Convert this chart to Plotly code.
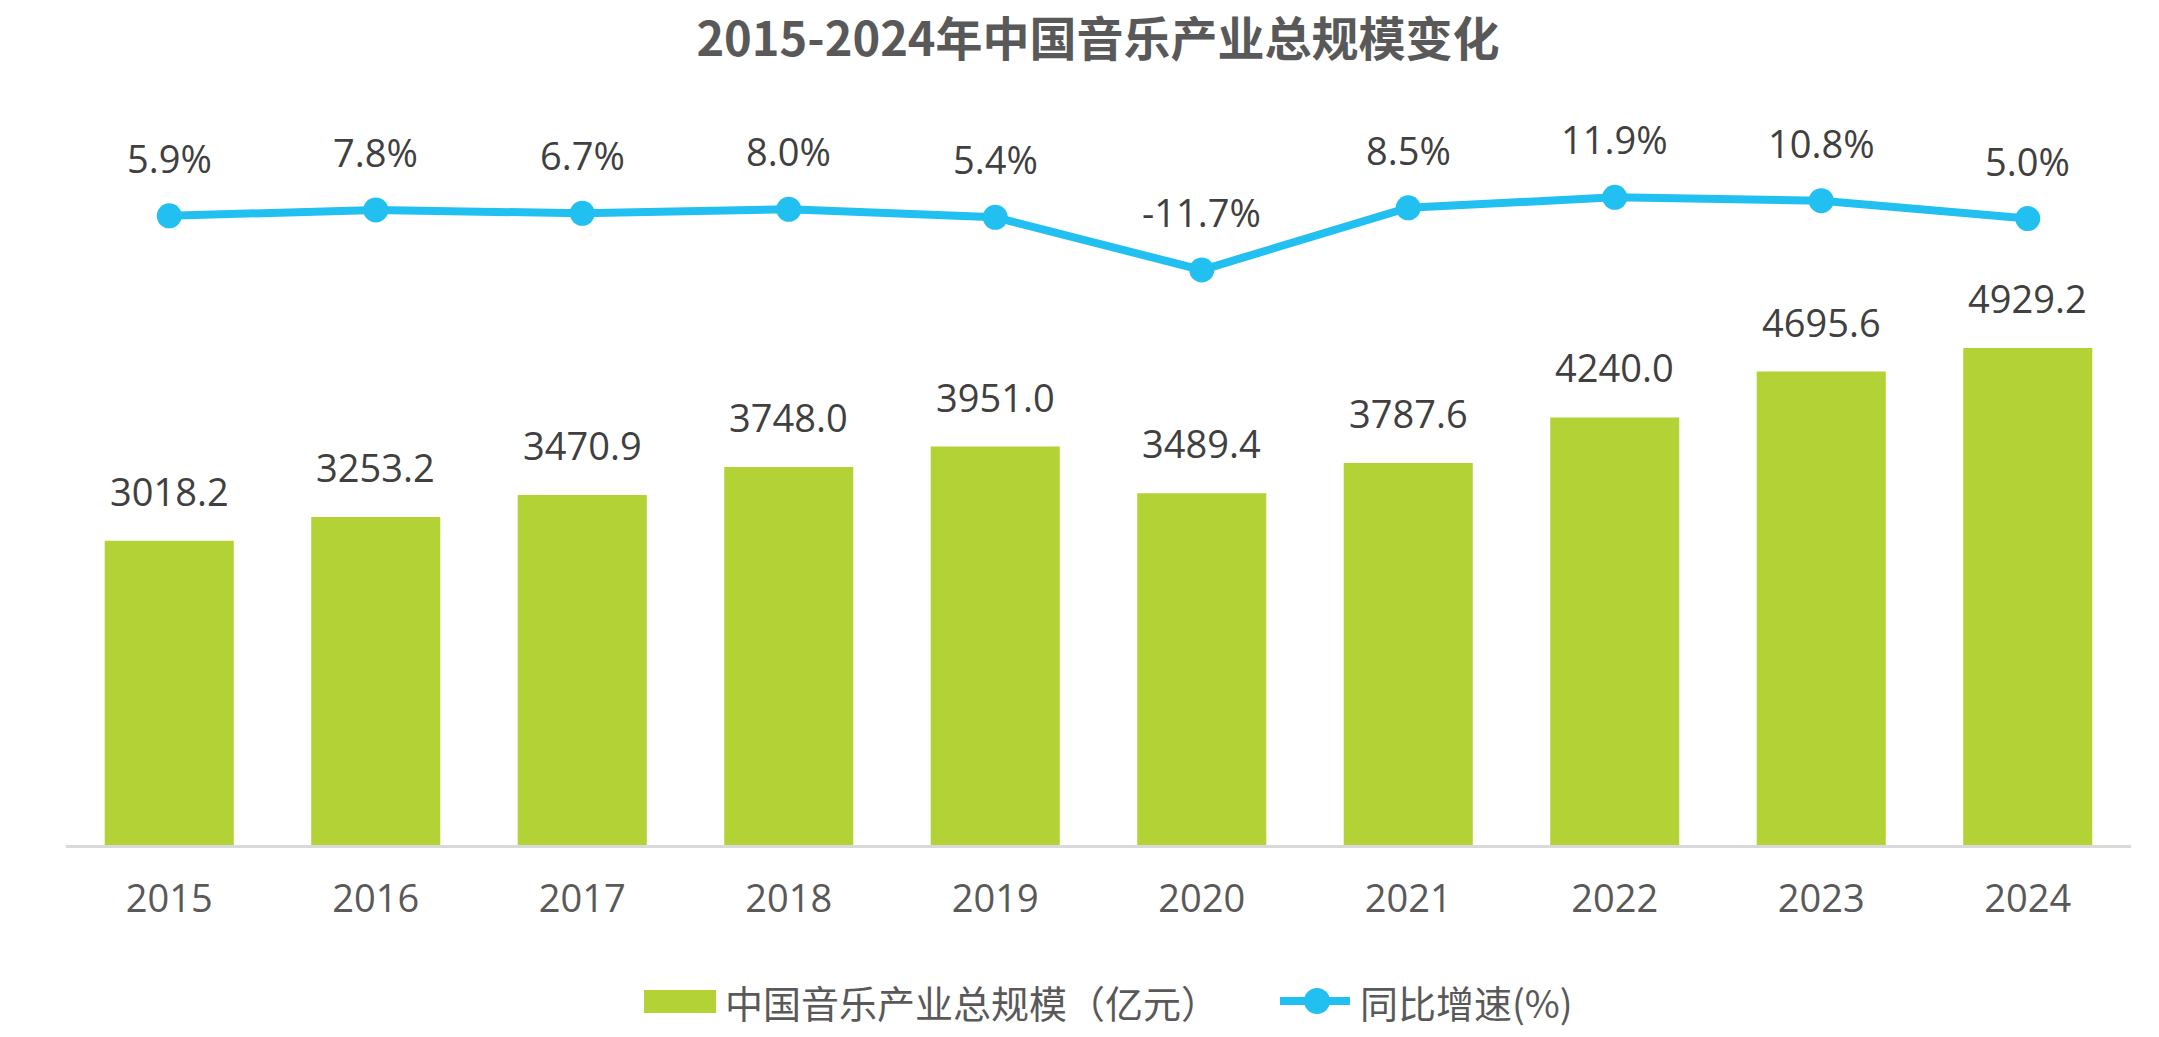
import plotly.graph_objects as go

years = ["2015", "2016", "2017", "2018", "2019", "2020", "2021", "2022", "2023", "2024"]
scale_values = [3018.2, 3253.2, 3470.9, 3748.0, 3951.0, 3489.4, 3787.6, 4240.0, 4695.6, 4929.2]
growth_values = [5.9, 7.8, 6.7, 8.0, 5.4, -11.7, 8.5, 11.9, 10.8, 5.0]

title_text = "2015-2024年中国音乐产业总规模变化"
bar_name = "中国音乐产业总规模（亿元）"
line_name = "同比增速(%)"

GREEN = "#B2D235"
BLUE = "#22C0F0"
TXT = "#404040"
GRAY = "#595959"
NUM_FONT = "Open Sans"
CJK_FONT = "Noto Sans CJK SC"

W, H = 2159, 1037
ML, MR, MT, MB = 66, 28, 100, 192
PW = W - ML - MR
PH = H - MT - MB

fig = go.Figure()
fig.add_trace(go.Bar(
    x=years, y=scale_values, name=bar_name,
    marker=dict(color=GREEN, line=dict(width=0)),
    yaxis="y", showlegend=False, hoverinfo="skip",
))
fig.add_trace(go.Scatter(
    x=years, y=growth_values, name=line_name, mode="lines+markers",
    line=dict(color=BLUE, width=8), marker=dict(color=BLUE, size=25),
    yaxis="y2", showlegend=False, hoverinfo="skip",
))

annotations = []
for i, v in enumerate(scale_values):
    annotations.append(dict(
        x=i, y=v, xref="x", yref="y", text=f"{v:.1f}", showarrow=False,
        xanchor="center", yanchor="bottom", yshift=22,
        font=dict(family=NUM_FONT, size=38, color=TXT),
    ))
for i, v in enumerate(growth_values):
    annotations.append(dict(
        x=i, y=v, xref="x", yref="y2", text=f"{v:.1f}%", showarrow=False,
        xanchor="center", yanchor="bottom", yshift=30,
        font=dict(family=NUM_FONT, size=38, color=TXT),
    ))

def px_to_paper_x(px):
    return (px - ML) / PW

def px_to_paper_y(py):
    return (H - MB - py) / PH

# custom legend
leg_y = px_to_paper_y(1001)
shapes = [
    dict(type="rect", xref="paper", yref="paper",
         x0=px_to_paper_x(644), x1=px_to_paper_x(716),
         y0=px_to_paper_y(1013), y1=px_to_paper_y(990),
         fillcolor=GREEN, line=dict(width=0)),
    dict(type="line", xref="paper", yref="paper",
         x0=px_to_paper_x(1280), x1=px_to_paper_x(1350), y0=leg_y, y1=leg_y,
         line=dict(color=BLUE, width=8)),
    dict(type="circle", xref="paper", yref="paper",
         xsizemode="pixel", ysizemode="pixel",
         xanchor=px_to_paper_x(1317), yanchor=leg_y,
         x0=-13, x1=13, y0=-13, y1=13,
         fillcolor=BLUE, line=dict(width=0)),
]
annotations.append(dict(
    x=px_to_paper_x(723), y=leg_y, xref="paper", yref="paper", text=bar_name,
    showarrow=False, xanchor="left", yanchor="middle",
    font=dict(family=CJK_FONT, size=38, color=GRAY),
))
annotations.append(dict(
    x=px_to_paper_x(1358), y=leg_y, xref="paper", yref="paper", text=line_name,
    showarrow=False, xanchor="left", yanchor="middle",
    font=dict(family=CJK_FONT, size=38, color=GRAY),
))

fig.update_layout(
    width=W, height=H,
    margin=dict(l=ML, r=MR, t=MT, b=MB, pad=0),
    paper_bgcolor="white", plot_bgcolor="white",
    bargap=0.375,
    title=dict(
        text=title_text, x=1098 / W, xanchor="center",
        yref="container", y=1 - 40 / H, yanchor="middle",
        font=dict(family=CJK_FONT, size=47, color=GRAY, weight="bold"),
    ),
    xaxis=dict(
        type="category", categoryorder="array", categoryarray=years,
        range=[-0.5, len(years) - 0.5], autorange=False,
        showgrid=False, zeroline=False,
        showline=True, linecolor="#D9D9D9", linewidth=3,
        ticks="outside", ticklen=18, tickcolor="rgba(0,0,0,0)",
        tickfont=dict(family=NUM_FONT, size=38, color=GRAY),
    ),
    yaxis=dict(visible=False, range=[0, 7388], autorange=False, fixedrange=True),
    yaxis2=dict(visible=False, overlaying="y", range=[-198.4, 43.5], autorange=False, fixedrange=True),
    annotations=annotations,
    shapes=shapes,
    showlegend=False,
)

fig.write_html("out.html")
